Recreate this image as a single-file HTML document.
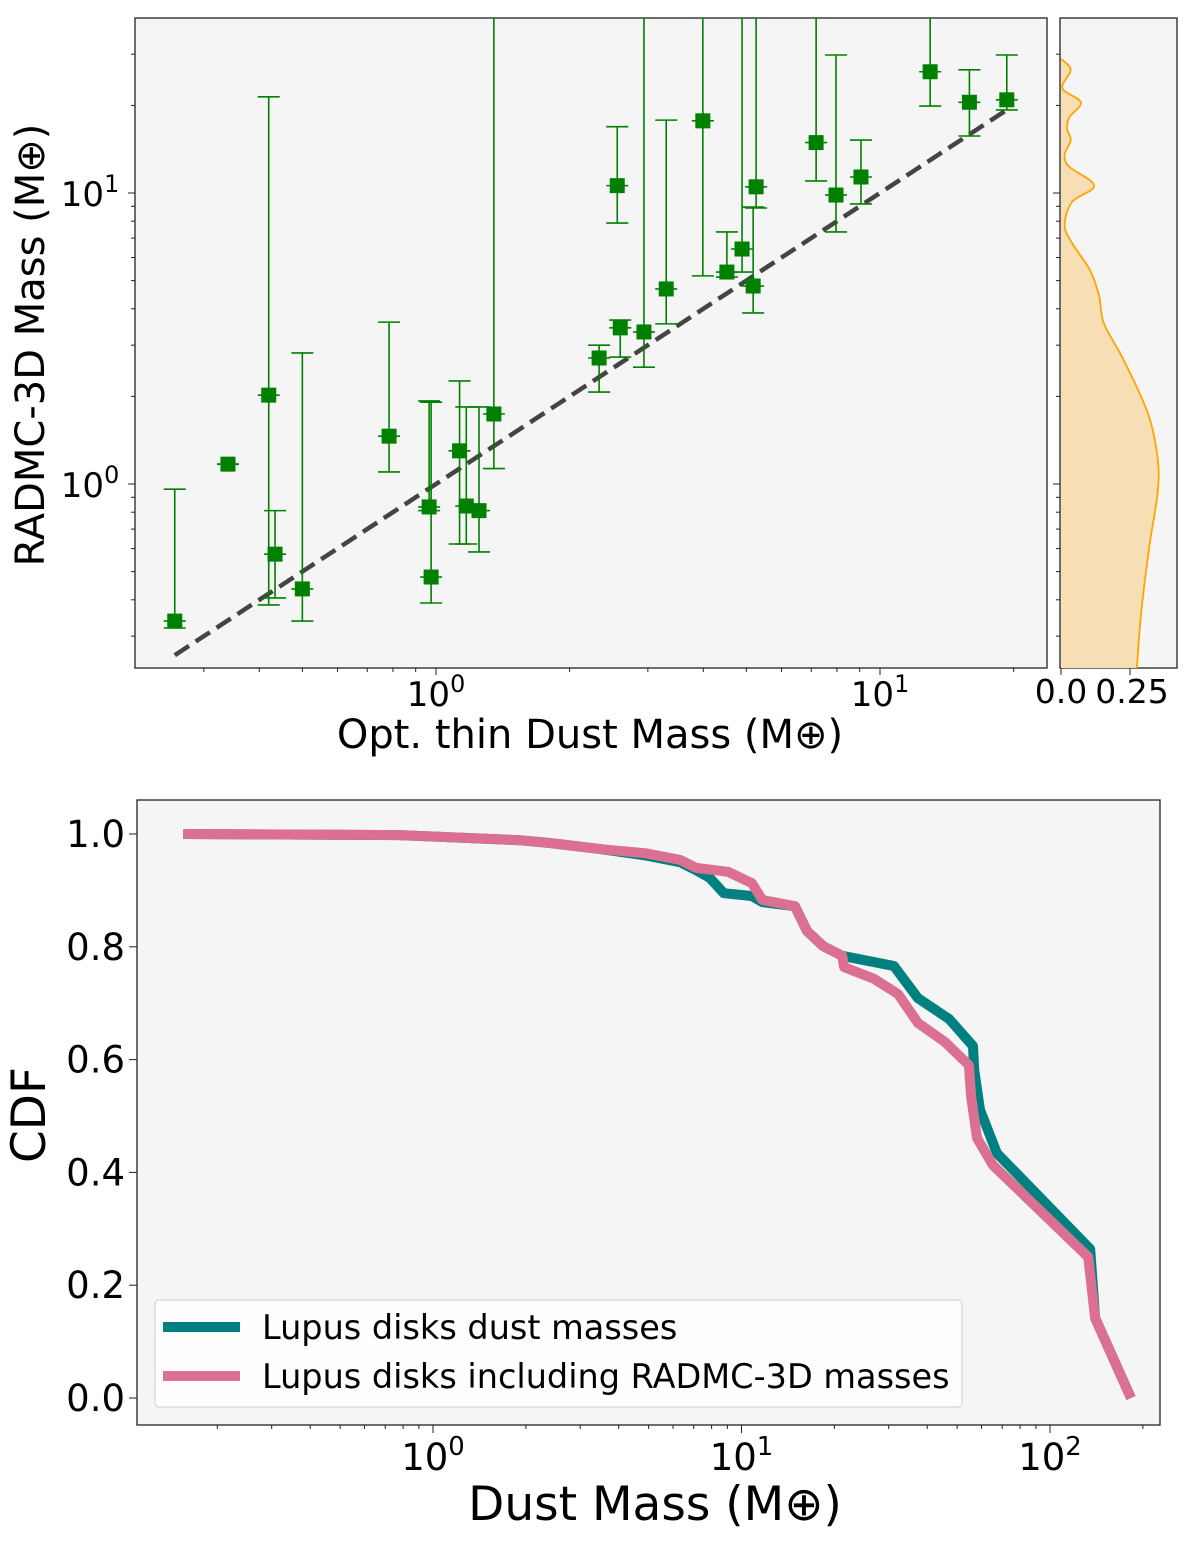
<!DOCTYPE html>
<html><head><meta charset="utf-8"><style>body{margin:0;background:#fff}svg{display:block;font-family:"DejaVu Sans","Liberation Sans",sans-serif}</style></head>
<body>
<svg id="s" width="1200" height="1560" viewBox="0 0 1200 1560"></svg>
<script>
// Top scatter data
const optMass=[0.258,0.34,0.42,0.434,0.50,0.784,0.965,0.975,1.13,1.17,1.25,1.35,2.33,2.56,2.6,2.94,3.3,3.99,4.52,4.89,5.18,5.26,7.18,7.96,9.06,12.97,15.9,19.3];
const radMass=[0.338,1.17,2.02,0.574,0.436,1.46,0.834,0.479,1.30,0.84,0.81,1.74,2.71,10.6,3.44,3.33,4.68,17.7,5.35,6.42,4.79,10.5,14.9,9.84,11.35,26.1,20.5,20.9];
const radHi=[0.96,1.17,21.4,0.81,2.82,3.6,1.93,1.91,2.26,1.84,1.84,50,3.0,16.9,3.66,50,17.8,50,7.35,50,8.95,50,50,29.8,15.2,50,26.5,29.8];
const radLo=[0.32,1.17,0.384,0.406,0.338,1.10,0.81,0.39,0.622,0.622,0.584,1.13,2.07,7.88,2.73,2.52,3.55,5.19,5.14,5.35,3.87,8.88,11.0,7.35,9.17,19.9,15.7,19.3];
const lineRange=[0.258,19.5];
// KDE
const kdeMass=[28.9,26.5,22.9,20.5,18.2,16.6,15.2,13.5,12.3,10.6,9.31,7.76,6.73,5.43,4.43,3.57,2.69,1.75,1.23,0.93,0.61,0.357,0.233];
const kdeDens=[0,0.035,0.005,0.072,0.03,0.022,0.035,0.013,0.03,0.12,0.04,0.013,0.04,0.105,0.138,0.155,0.225,0.315,0.35,0.35,0.32,0.29,0.275];
// CDF
const pinkMass=[0.155,0.78,1.91,2.39,3.51,4.87,6.32,7.12,9.04,10.8,11.7,14.9,16.3,18.4,21.2,21.5,26.9,32.2,37.3,45.7,54.6,55.5,58.0,65.3,133,140,183];
const pinkCdf=[1.0,0.998,0.989,0.984,0.973,0.966,0.954,0.940,0.933,0.913,0.883,0.872,0.828,0.801,0.784,0.764,0.743,0.716,0.665,0.631,0.590,0.535,0.461,0.413,0.250,0.142,0.0];
const tealMass=[0.155,0.78,1.91,2.39,3.51,4.87,6.32,7.12,7.9,8.76,10.8,11.7,14.9,16.3,18.4,21.2,31.2,37.3,47.1,56.3,56.8,59.3,67.3,135,140,183];
const tealCdf=[1.0,0.998,0.989,0.984,0.973,0.962,0.950,0.936,0.922,0.895,0.890,0.879,0.872,0.828,0.801,0.784,0.766,0.709,0.672,0.624,0.582,0.511,0.434,0.264,0.142,0.0];
const cdfTicks=[0,0.2,0.4,0.6,0.8,1.0];

const S=document.getElementById('s');const NS='http://www.w3.org/2000/svg';
function mk(t,a,p){const e=document.createElementNS(NS,t);for(const k in a)e.setAttribute(k,a[k]);(p||S).appendChild(e);return e;}
const L=Math.log10;
const tx=v=>436+444*L(v), ty=v=>484-291*L(v);
const sx=d=>1061+276*d;
const bx=v=>433+308.5*L(v), by=v=>1398-564*v;

let r=mk('rect',{x:135,y:18,width:912,height:650,fill:'#f5f5f5',stroke:'#222','stroke-width':1.3});

r=mk('rect',{x:1060,y:18,width:117,height:650,fill:'#f5f5f5',stroke:'#222','stroke-width':1.3});

r=mk('rect',{x:137,y:800,width:1023,height:625,fill:'#f5f5f5',stroke:'#222','stroke-width':1.3});


function sup(x,y,base,ex,fs,name){const t=mk('text',{x:x,y:y,'font-size':fs,'text-anchor':'middle',fill:'#000'});
 const a=mk('tspan',{},t);a.textContent=base;const b=mk('tspan',{'baseline-shift':'super','font-size':fs*0.7},t);b.textContent=ex;return t;}
function txt(x,y,s,fs,anchor,name,extra){const t=mk('text',Object.assign({x:x,y:y,'font-size':fs,'text-anchor':anchor,fill:'#000'},extra||{}));t.textContent=s;return t;}
function logTicks(lo,hi){const o=[];for(let e=-2;e<=3;e++)for(let m=1;m<10;m++){const v=m*Math.pow(10,e);if(v>=lo&&v<=hi)o.push([v,m==1]);}return o;}

logTicks(0.21,23.8).forEach(([v,maj])=>{const x=tx(v);mk('line',{x1:x,x2:x,y1:668,y2:668+(maj?7:4),stroke:'#222','stroke-width':1});});
logTicks(0.233,39.9).forEach(([v,maj])=>{const y=ty(v);mk('line',{x1:135,x2:135-(maj?7:4),y1:y,y2:y,stroke:'#222','stroke-width':1});mk('line',{x1:1060,x2:1060-(maj?7:4),y1:y,y2:y,stroke:'#222','stroke-width':1});});
sup(tx(1),706,'10','0',34,'x-tick-1');sup(tx(10),706,'10','1',34,'x-tick-10');
sup(90,ty(1)+13,'10','0',34,'y-tick-1');sup(90,ty(10)+13,'10','1',34,'y-tick-10');
txt(590,748,'Opt. thin Dust Mass (M\u2295)',40,'middle','x-axis-title');
txt(0,0,'RADMC-3D Mass (M\u2295)',40,'middle','y-axis-title',{transform:'translate(44,345) rotate(-90)'});
[[0,'0.0'],[0.25,'0.25']].forEach(([d,s])=>{const x=sx(d);mk('line',{x1:x,x2:x,y1:668,y2:675,stroke:'#222'});txt(x+(d?2:0),703,s,33,'middle','kde-x-tick');});

let dl=mk('line',{x1:tx(lineRange[0]),y1:ty(lineRange[0]),x2:tx(lineRange[1]),y2:ty(lineRange[1]),stroke:'#444','stroke-width':4.5,'stroke-dasharray':'17,8'});


const defs=mk('defs',{});const cp=mk('clipPath',{id:'c1'},defs);mk('rect',{x:135,y:18,width:912,height:650},cp);
const g=mk('g',{'clip-path':'url(#c1)'});
optMass.forEach((v,i)=>{const x=tx(v);const y1=ty(radHi[i]),y2=ty(radLo[i]);
 const eb=mk('g',{stroke:'#008000','stroke-width':1.6},g);
 mk('line',{x1:x,x2:x,y1:y1,y2:y2},eb);mk('line',{x1:x-11,x2:x+11,y1:y1,y2:y1},eb);mk('line',{x1:x-11,x2:x+11,y1:y2,y2:y2},eb);
 mk('line',{x1:x-11,x2:x+11,y1:ty(radMass[i]),y2:ty(radMass[i])},eb);
 const p=mk('rect',{x:x-7.5,y:ty(radMass[i])-7.5,width:15,height:15,fill:'#008000'},g);
 });

// kde smooth path (Catmull-Rom)
const P=kdeMass.map((m,i)=>[sx(kdeDens[i]),ty(m)]);
let d='M'+P[0][0]+','+P[0][1];
for(let i=0;i<P.length-1;i++){const p0=P[Math.max(0,i-1)],p1=P[i],p2=P[i+1],p3=P[Math.min(P.length-1,i+2)];
 const c1=[p1[0]+(p2[0]-p0[0])/6,p1[1]+(p2[1]-p0[1])/6],c2=[p2[0]-(p3[0]-p1[0])/6,p2[1]-(p3[1]-p1[1])/6];
 d+=' C'+c1[0].toFixed(1)+','+c1[1].toFixed(1)+' '+c2[0].toFixed(1)+','+c2[1].toFixed(1)+' '+p2[0].toFixed(1)+','+p2[1].toFixed(1);}
const cp2=mk('clipPath',{id:'c2'},defs);mk('rect',{x:1060,y:18,width:117,height:650},cp2);
const g2=mk('g',{'clip-path':'url(#c2)'});
let kf=mk('path',{d:d+' L'+sx(0)+','+P[P.length-1][1]+' L'+sx(0)+','+P[0][1]+'Z',fill:'#f8deb4'},g2);

let kl=mk('path',{d:d,fill:'none',stroke:'#ffa500','stroke-width':1.8},g2);


logTicks(0.11,300).forEach(([v,maj])=>{const x=bx(v);if(x<137||x>1160)return;mk('line',{x1:x,x2:x,y1:1425,y2:1425+(maj?8:4),stroke:'#222'});});
sup(bx(1),1470,'10','0',37,'cdf-x-tick-1');sup(bx(10),1470,'10','1',37,'cdf-x-tick-10');sup(bx(100),1470,'10','2',37,'cdf-x-tick-100');
cdfTicks.forEach(v=>{const y=by(v);mk('line',{x1:137,x2:129,y1:y,y2:y,stroke:'#222'});txt(125,y+13,v.toFixed(1),37,'end','cdf-y-tick');});
txt(655,1520,'Dust Mass (M\u2295)',47,'middle','cdf-x-axis-title');
txt(0,0,'CDF',47,'middle','cdf-y-axis-title',{transform:'translate(45,1115) rotate(-90)'});
function poly(ms,cs,col,name){const p=mk('polyline',{points:ms.map((m,i)=>bx(m).toFixed(1)+','+by(cs[i]).toFixed(1)).join(' '),fill:'none',stroke:col,'stroke-width':10,'stroke-linejoin':'round'});}
poly(tealMass,tealCdf,'#008080','cdf-line-dust-masses');
poly(pinkMass,pinkCdf,'#db7093','cdf-line-radmc');
const lg=mk('g',{});
mk('rect',{x:155,y:1300,width:807,height:107,rx:4,fill:'#fff','fill-opacity':0.85,stroke:'#ccc'},lg);
mk('line',{x1:163,x2:240,y1:1327,y2:1327,stroke:'#008080','stroke-width':10},lg);
mk('line',{x1:163,x2:240,y1:1376,y2:1376,stroke:'#db7093','stroke-width':10},lg);
txt(262,1339,'Lupus disks dust masses',33.5,'start','legend-entry-dust');
txt(262,1388,'Lupus disks including RADMC-3D masses',33.5,'start','legend-entry-radmc');
</script>
</body></html>
